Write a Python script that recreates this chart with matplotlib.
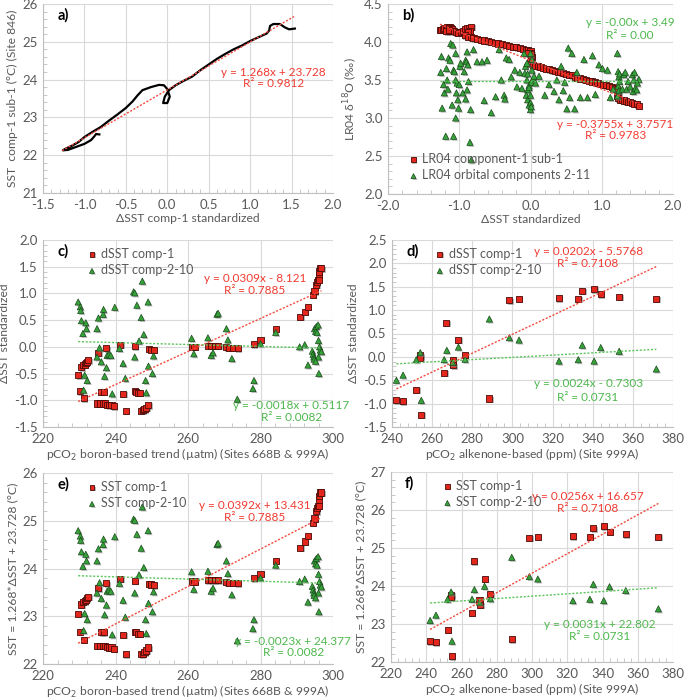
import matplotlib
matplotlib.use("Agg")
import matplotlib.pyplot as plt
import matplotlib.patheffects as pe
from matplotlib.ticker import MultipleLocator, FormatStrFormatter
import numpy as np

plt.rcParams['font.family'] = ['Lato', 'DejaVu Sans']

# ---------------- data ----------------
# Panel a: SST comp-1 sub-1 vs dSST comp-1 standardized (continuous path)
a_x = [-0.82, -0.86, -0.88, -0.92, -1.0, -1.1, -1.2, -1.26, -1.22, -1.15, -1.07, -1.0, -0.9, -0.8,
       -0.7, -0.6, -0.5, -0.42, -0.36, -0.3, -0.2, -0.1, -0.04, 0.0, 0.03, 0.0, -0.05, -0.03, 0.02,
       0.1, 0.2, 0.3, 0.4, 0.5, 0.6, 0.7, 0.8, 0.9, 1.0, 1.1, 1.2, 1.23, 1.24, 1.28, 1.36, 1.42,
       1.47, 1.54]
a_y = [22.55, 22.56, 22.50, 22.40, 22.30, 22.22, 22.14, 22.13, 22.18, 22.25, 22.35, 22.48, 22.62,
       22.75, 22.92, 23.08, 23.25, 23.42, 23.58, 23.72, 23.80, 23.86, 23.85, 23.75, 23.55, 23.38,
       23.38, 23.55, 23.72, 23.85, 23.97, 24.08, 24.25, 24.40, 24.55, 24.68, 24.80, 24.90, 25.02,
       25.12, 25.22, 25.30, 25.42, 25.47, 25.47, 25.38, 25.33, 25.35]
a_fit = (1.268, 23.728)

# Panel b: LR04 d18O vs dSST standardized
b_red_x = [-1.27, -1.25, -1.23, -1.21, -1.19, -1.17, -1.15, -1.13, -1.11, -1.10, -1.12, -1.15, -1.18,
           -1.14, -1.08, -1.05, -1.02, -0.98, -0.95, -0.92, -0.89, -0.86, -0.83, -0.85, -0.88,
           -0.92, -0.88, -0.84, -0.80, -0.75, -0.70, -0.65, -0.60, -0.55, -0.50, -0.45, -0.40,
           -0.35, -0.30, -0.25, -0.20, -0.15, -0.10, -0.06, -0.03, 0.00, 0.01, 0.01, 0.02, 0.01,
           0.00, 0.01, 0.00, -0.03,
           0.03, 0.06, 0.10, 0.14, 0.18, 0.22, 0.26, 0.30, 0.34, 0.38, 0.42, 0.46, 0.50, 0.54,
           0.58, 0.62, 0.66, 0.70, 0.74, 0.78, 0.82, 0.86, 0.90, 0.94, 0.98, 1.02, 1.06, 1.10,
           1.14, 1.18, 1.21, 1.22, 1.23, 1.22, 1.23, 1.25, 1.28, 1.31, 1.34, 1.37, 1.40, 1.43,
           1.46, 1.49, 1.52]
b_red_y = [4.16, 4.16, 4.17, 4.18, 4.19, 4.20, 4.20, 4.20, 4.19, 4.17, 4.15, 4.14, 4.14,
           4.16, 4.14, 4.13, 4.12, 4.13, 4.15, 4.17, 4.18, 4.19, 4.20, 4.15, 4.13,
           4.09, 4.07, 4.06, 4.05, 4.04, 4.03, 4.02, 4.01, 4.00, 3.99, 3.98, 3.97,
           3.96, 3.95, 3.94, 3.93, 3.92, 3.91, 3.90, 3.89, 3.88, 3.85, 3.82, 3.80, 3.77,
           3.74, 3.71, 3.84, 3.86,
           3.70, 3.69, 3.68, 3.67, 3.66, 3.65, 3.64, 3.63, 3.62, 3.61, 3.60, 3.59, 3.58, 3.57,
           3.56, 3.54, 3.53, 3.52, 3.51, 3.50, 3.49, 3.48, 3.47, 3.46, 3.45, 3.44, 3.43, 3.42,
           3.41, 3.40, 3.38, 3.35, 3.32, 3.29, 3.26, 3.24, 3.24, 3.23, 3.22, 3.21, 3.21, 3.20,
           3.19, 3.18, 3.16]
b_grn_x = [-1.25, -1.26, -1.24, -1.22, -1.21, -1.19, -1.18, -1.17, -1.16, -1.15, -1.13, -1.12,
           -1.10, -1.09, -1.08, -1.08, -1.07, -1.05, -1.05, -1.05, -1.04, -1.03, -1.02, -1.01,
           -1.00, -0.99, -0.98, -0.95, -0.93, -0.91, -0.90, -0.89, -0.88, -0.87, -0.85, -0.84,
           -0.83, -0.89, -0.91, -0.80, -0.75, -0.68, -0.65, -0.61, -0.55, -0.49, -0.44, -0.41,
           -0.37, -0.36, -0.34, -0.30, -0.27, -0.22, -0.19, -0.15, -0.12, -0.09, -0.08,
           -0.07, -0.05, -0.04, -0.06, -0.04, -0.02, -0.02, -0.04, 0.00, 0.00, 0.01, 0.02,
           0.00, 0.02, 0.04, -0.02, -0.05, 0.00, 0.01, 0.05,
           0.07, 0.12, 0.20, 0.26, 0.33, 0.37, 0.40, 0.43, 0.46, 0.48, 0.51, 0.53, 0.55, 0.58,
           0.62, 0.65, 0.70, 0.75, 0.80, 0.87, 0.91, 0.96, 1.01, 1.08, 1.12, 1.16, 1.22,
           1.23, 1.24, 1.23, 1.25, 1.22, 1.25, 1.24,
           1.29, 1.31, 1.33, 1.35, 1.37, 1.40, 1.43, 1.44, 1.45, 1.46, 1.47, 1.49, 1.52, 1.50]
b_grn_y = [3.81, 3.60, 3.13, 3.44, 3.33, 2.76, 3.65, 3.50, 3.38, 3.79, 3.76, 3.98,
           3.17, 3.96, 3.63, 2.76, 3.61, 3.85, 3.00, 3.50, 3.33, 3.46, 3.24, 3.13,
           3.44, 3.68, 3.72, 3.33, 3.61, 3.76, 3.74, 3.87, 3.70, 3.48, 2.68, 3.11,
           2.45, 3.37, 3.25, 3.90, 3.74, 3.74, 3.23, 3.76, 3.07, 3.28, 3.90, 3.50,
           3.30, 3.25, 3.79, 3.77, 3.54, 3.63, 3.41, 3.60, 3.39, 3.85, 3.59,
           3.68, 3.50, 3.37, 3.30, 3.24, 3.17, 3.43, 3.58, 3.85, 3.30, 3.47, 3.63,
           3.11, 3.77, 3.52, 3.40, 3.72, 3.20, 3.15, 3.55,
           3.46, 3.55, 3.30, 3.44, 3.35, 3.50, 3.24, 3.68, 3.36, 3.47, 3.12, 3.92, 3.27, 3.85,
           3.12, 3.60, 3.27, 3.77, 3.27, 3.82, 3.31, 3.70, 3.65, 3.63, 3.27, 3.38, 3.85,
           3.61, 3.54, 3.42, 3.48, 3.29, 3.58, 3.36,
           3.38, 3.57, 3.60, 3.38, 3.48, 3.41, 3.57, 3.35, 3.50, 3.60, 3.39, 3.37, 3.51, 3.46]
b_red_fit = (-0.3755, 3.7571)
b_grn_fit = (-0.0, 3.49)

# Panel c: dSST standardized vs pCO2 boron-based trend
c_red_x = [229.7, 230.1, 230.6, 231.0, 231.3, 231.5, 231.8, 232.1, 232.5, 234.9, 235.3, 237.5,
           235.6, 236.1, 236.6, 236.7, 237.0, 237.7, 238.2, 238.9, 239.6, 241.3, 242.1, 242.8,
           245.3, 245.3, 245.7, 246.2, 246.7, 247.1, 247.6, 248.0, 248.5, 249.0, 249.2, 249.9,
           250.5, 261.2, 261.8, 265.5, 266.4, 267.4, 268.3, 270.6, 271.3, 272.4, 273.8, 278.1,
           280.0, 284.2, 291.0, 292.2, 293.1, 294.5, 294.9, 295.4, 295.6, 295.9, 296.1, 296.1,
           296.3, 296.8, 296.1]
c_red_y = [-0.53, -0.83, -0.38, -0.34, -0.96, -0.33, -0.30, -0.28, -0.25, -1.06, -0.11, -0.03,
           -1.06, -0.84, -1.06, -0.84, -1.06, -1.08, -1.09, -1.09, -1.11, 0.04, -0.88, -1.20,
           0.01, -0.83, -0.84, -0.86, -0.86, -1.20, -1.19, -1.17, -1.14, -1.09, -0.04, -0.05,
           -0.06, 0.0, 0.0, 0.02, 0.02, 0.02, 0.02, -0.01, -0.02, -0.02, -0.03, 0.05,
           0.13, 0.34, 0.56, 0.66, 0.75, 0.97, 1.04, 1.16, 1.21, 1.25, 1.34, 1.41,
           1.47, 1.47, 1.25]
c_grn_x = [229.7, 230.3, 230.4, 230.6, 231.0, 231.2, 231.5, 231.8, 232.0, 232.2, 234.9, 234.9,
           235.3, 235.6, 236.1, 236.6, 236.7, 237.0, 237.5, 237.7, 238.2, 238.7, 239.1, 239.8,
           241.1, 242.1, 242.7, 245.0, 245.3, 245.3, 245.9, 246.5, 247.1, 247.4, 247.8, 248.3,
           248.5, 249.0, 249.1, 250.2, 250.5, 261.0, 261.6, 265.5, 266.4, 266.9, 268.0, 268.3,
           270.6, 271.0, 272.1, 273.6, 277.9, 278.2, 280.0, 284.2, 290.8, 292.2, 293.1, 294.3,
           294.5, 294.7, 294.8, 294.9, 295.2, 295.4, 295.6, 295.9, 296.0, 296.0, 296.1, 296.3,
           296.5, 296.8, 295.2]
c_grn_y = [0.84, 0.75, 0.68, 0.49, 0.25, -0.81, -0.53, 0.45, 0.34, -0.63, 0.34, -0.19,
           0.54, -0.02, -0.28, 0.61, 0.70, -0.55, -0.39, -0.16, -0.14, -0.16, -0.88, 0.74,
           -0.03, -0.31, -0.59, 1.03, 1.01, -0.19, 0.78, 0.11, 0.55, 1.23, 0.23, -0.63,
           -0.86, 0.84, -0.36, -0.50, -0.17, 0.16, -0.13, 0.17, -0.16, -0.11, 0.61, 0.63,
           0.34, 0.13, -0.22, -0.98, -0.78, -0.63, 0.06, 0.27, 0.0, 0.04, -0.34, -0.08,
           -0.14, -0.19, -0.23, 0.34, 0.29, 0.38, 0.27, 0.41, 0.12, -0.19, -0.50, 0.0,
           -0.06, -0.09, -0.27]
c_red_fit = (0.0309, -8.121)
c_grn_fit = (-0.0018, 0.5117)

# Panel d: dSST standardized vs pCO2 alkenone-based
d_x = [242.2, 245.5, 252.1, 254.1, 254.1, 254.6, 266.0, 267.0, 270.2, 270.6, 273.1, 276.4,
       288.5, 298.5, 303.3, 323.2, 332.8, 334.8, 340.7, 344.0, 353.2, 371.7]
d_red_y = [-0.93, -0.95, -0.70, 0.03, -0.02, -1.24, -0.34, 0.73, -0.07, -0.18, 0.36, 0.04,
           -0.89, 1.21, 1.24, 1.25, 1.24, 1.41, 1.45, 1.34, 1.29, 1.24]
d_grn_x = [242.2, 245.5, 252.1, 254.1, 254.6, 266.0, 267.3, 270.2, 273.1, 276.4,
           288.5, 298.5, 303.3, 323.2, 332.8, 334.8, 340.7, 344.0, 353.2, 371.7]
d_grn_y = [-0.50, -0.39, -0.06, 0.09, -0.93, -0.06, 0.14, -0.12, 0.21, -0.05,
           0.81, 0.41, 0.36, -0.09, -0.06, 0.25, -0.09, 0.20, 0.12, -0.26]
d_red_fit = (0.0202, -5.5768)
d_grn_fit = (0.0024, -0.7303)

# Panels e, f use the chart's stated conversion SST = 1.268*dSST + 23.728
SST_SLOPE, SST_ICPT = 1.268, 23.728
e_red_fit = (0.0392, 13.431)
e_grn_fit = (-0.0023, 24.377)
f_red_fit = (0.0256, 16.657)
f_grn_fit = (0.0031, 22.802)

# ---------------- style ----------------
RED_FILL, RED_EDGE = '#E4261C', '#4a0c08'
GRN_FILL, GRN_EDGE = '#36A23A', '#1b4a1c'
RED_LINE, GRN_LINE = '#F24B3F', '#5CC45C'
RED_TXT, GRN_TXT = '#F03C32', '#4DB84D'
GRAY_TXT = '#595959'
GRID = '#D9D9D9'
shadow = [pe.SimplePatchShadow(offset=(1.0, -1.0), shadow_rgbFace='#8c8c8c', alpha=0.6), pe.Normal()]

W, H = 685, 700
fig = plt.figure(figsize=(W / 100, H / 100), dpi=100)


def make_ax(l, r, t, b):
    return fig.add_axes([l / W, 1 - b / H, (r - l) / W, (b - t) / H])


def style(ax, xlim, ylim, xmaj, ymaj, xfmt, yfmt, xminor=None, yminor=None):
    ax.set_xlim(*xlim)
    ax.set_ylim(*ylim)
    ax.xaxis.set_major_locator(MultipleLocator(xmaj))
    ax.yaxis.set_major_locator(MultipleLocator(ymaj))
    ax.xaxis.set_major_formatter(FormatStrFormatter(xfmt))
    ax.yaxis.set_major_formatter(FormatStrFormatter(yfmt))
    if xminor:
        ax.xaxis.set_minor_locator(MultipleLocator(xminor))
    if yminor:
        ax.yaxis.set_minor_locator(MultipleLocator(yminor))
    ax.grid(True, which='major', color=GRID, lw=0.8)
    ax.set_axisbelow(True)
    for s in ['top', 'right']:
        ax.spines[s].set_visible(False)
    for s in ['left', 'bottom']:
        ax.spines[s].set_color('#BFBFBF')
        ax.spines[s].set_linewidth(0.8)
    ax.tick_params(which='major', length=0, labelsize=9.5, labelcolor=GRAY_TXT, pad=4)
    ax.tick_params(which='minor', direction='in', length=3, color='#BFBFBF', width=0.6)


def label(ax, s):
    ax.text(0.05, 0.94, s, transform=ax.transAxes, fontsize=10.5, fontweight='bold',
            ha='left', va='center', color='black')


def trend(ax, fit, x0, x1, color):
    xs = np.array([x0, x1])
    ax.plot(xs, fit[0] * xs + fit[1], ls=(0, (1.5, 1.2)), color=color, lw=1.0, zorder=4)


def eq(ax, x, y1, y2, txt, r2, color):
    ax.text(x, y1, txt, color=color, fontsize=8.5, ha='center', va='center', zorder=6)
    ax.text(x, y2, 'R² = ' + r2, color=color, fontsize=8.5, ha='center', va='center', zorder=6)


def sq(ax, x, y, lab):
    ax.scatter(x, y, marker='s', s=19, facecolor=RED_FILL, edgecolor=RED_EDGE, linewidths=0.6,
               zorder=3, label=lab, path_effects=shadow)


def tri(ax, x, y, lab):
    ax.scatter(x, y, marker='^', s=20, facecolor=GRN_FILL, edgecolor=GRN_EDGE, linewidths=0.5,
               zorder=3, label=lab, path_effects=shadow)


def leg(ax, anchor, loc='upper left'):
    lg = ax.legend(loc=loc, bbox_to_anchor=anchor, frameon=False, fontsize=9, handletextpad=0.2,
                   borderaxespad=0, labelspacing=0.35, markerscale=0.8, handlelength=1.0)
    for t in lg.get_texts():
        t.set_color(GRAY_TXT)


XL = dict(fontsize=8.7, color=GRAY_TXT, labelpad=2)
YL = dict(fontsize=8.7, color=GRAY_TXT, labelpad=3)

# ---- a ----
ax = make_ax(43, 333, 4, 193)
style(ax, (-1.5, 2.0), (21, 26), 0.5, 1, '%.1f', '%d', xminor=0.1, yminor=0.2)
ax.plot(a_x, a_y, color='black', lw=1.6, zorder=3, solid_joinstyle='round')
trend(ax, a_fit, -1.27, 1.53, RED_LINE)
eq(ax, 1.28, 24.2, 23.9, 'y = 1.268x + 23.728', '0.9812', RED_TXT)
ax.set_xlabel('ΔSST comp-1 standardized', **XL)
ax.set_ylabel('SST  comp-1 sub-1 (°C) (Site 846)', **YL)
label(ax, 'a)')

# ---- b ----
ax = make_ax(388, 673, 4, 194)
style(ax, (-2.0, 2.0), (2.0, 4.5), 1.0, 0.5, '%.1f', '%.1f', xminor=0.2, yminor=0.1)
sq(ax, b_red_x, b_red_y, 'LR04 component-1 sub-1')
tri(ax, b_grn_x, b_grn_y, 'LR04 orbital components 2-11')
trend(ax, b_red_fit, -1.27, 1.53, RED_LINE)
trend(ax, b_grn_fit, -1.27, 1.53, GRN_LINE)
eq(ax, 1.40, 4.25, 4.09, 'y = -0.00x + 3.49', '0.00', GRN_TXT)
eq(ax, 1.19, 2.92, 2.77, 'y = -0.3755x + 3.7571', '0.9783', RED_TXT)
ax.set_xlabel('ΔSST standardized', **XL)
ax.set_ylabel('LR04 δ$^{18}$O (‰)', **YL)
leg(ax, (0.05, 0.04), loc='lower left')
label(ax, 'b)')

# ---- c ----
ax = make_ax(43, 333, 240, 427)
style(ax, (220, 300), (-1.5, 2.0), 20, 0.5, '%d', '%.1f', xminor=4, yminor=0.1)
sq(ax, c_red_x, c_red_y, 'dSST comp-1')
tri(ax, c_grn_x, c_grn_y, 'dSST comp-2-10')
trend(ax, c_red_fit, 229.7, 296.8, RED_LINE)
trend(ax, c_grn_fit, 229.7, 296.8, GRN_LINE)
eq(ax, 278.5, 1.28, 1.06, 'y = 0.0309x - 8.121', '0.7885', RED_TXT)
eq(ax, 288.5, -1.09, -1.33, 'y = -0.0018x + 0.5117', '0.0082', GRN_TXT)
ax.set_xlabel('pCO$_2$ boron-based trend (µatm) (Sites 668B & 999A)', **XL)
ax.set_ylabel('ΔSST standardized', **YL)
leg(ax, (0.13, 0.985))
label(ax, 'c)')

# ---- d ----
ax = make_ax(392, 673, 240, 427)
style(ax, (240, 380), (-1.5, 2.5), 20, 0.5, '%d', '%.1f', xminor=4, yminor=0.1)
sq(ax, d_x, d_red_y, 'dSST comp-1')
tri(ax, d_grn_x, d_grn_y, 'dSST comp-2-10')
trend(ax, d_red_fit, 242.2, 371.7, RED_LINE)
trend(ax, d_grn_fit, 242.2, 371.7, GRN_LINE)
eq(ax, 337.7, 2.26, 1.99, 'y = 0.0202x - 5.5768', '0.7108', RED_TXT)
eq(ax, 337.7, -0.57, -0.86, 'y = 0.0024x - 0.7303', '0.0731', GRN_TXT)
ax.set_xlabel('pCO$_2$ alkenone-based (ppm) (Site 999A)', **XL)
ax.set_ylabel('ΔSST standardized', **YL)
leg(ax, (0.13, 0.985))
label(ax, 'd)')

# ---- e ----
ax = make_ax(43, 333, 473, 664)
style(ax, (220, 300), (22, 26), 20, 1, '%d', '%d', xminor=4, yminor=0.2)
sq(ax, c_red_x, SST_SLOPE * np.array(c_red_y) + SST_ICPT, 'SST comp-1')
tri(ax, c_grn_x, SST_SLOPE * np.array(c_grn_y) + SST_ICPT, 'SST comp-2-10')
trend(ax, e_red_fit, 229.7, 296.8, RED_LINE)
trend(ax, e_grn_fit, 229.7, 296.8, GRN_LINE)
eq(ax, 278.5, 25.31, 25.06, 'y = 0.0392x + 13.431', '0.7885', RED_TXT)
eq(ax, 289.0, 22.48, 22.24, 'y = -0.0023x + 24.377', '0.0082', GRN_TXT)
ax.set_xlabel('pCO$_2$ boron-based trend (µatm) (Sites 668B & 999A)', **XL)
ax.set_ylabel('SST = 1.268*ΔSST + 23.728 (°C)', **YL)
leg(ax, (0.13, 0.985))
label(ax, 'e)')

# ---- f ----
ax = make_ax(391, 673, 472, 662)
style(ax, (220, 380), (22, 27), 20, 1, '%d', '%d', xminor=4, yminor=0.2)
sq(ax, d_x, SST_SLOPE * np.array(d_red_y) + SST_ICPT, 'SST comp-1')
tri(ax, d_grn_x, SST_SLOPE * np.array(d_grn_y) + SST_ICPT, 'SST comp-2-10')
trend(ax, f_red_fit, 242.2, 371.7, RED_LINE)
trend(ax, f_grn_fit, 242.2, 371.7, GRN_LINE)
eq(ax, 331.5, 26.36, 26.03, 'y = 0.0256x + 16.657', '0.7108', RED_TXT)
eq(ax, 338.5, 22.98, 22.68, 'y = 0.0031x + 22.802', '0.0731', GRN_TXT)
ax.set_xlabel('pCO$_2$ alkenone-based (ppm) (Site 999A)', **XL)
ax.set_ylabel('SST = 1.268*ΔSST + 23.728 (°C)', **YL)
leg(ax, (0.16, 0.985))
label(ax, 'f)')

fig.savefig('out.png', dpi=100, facecolor='white')
